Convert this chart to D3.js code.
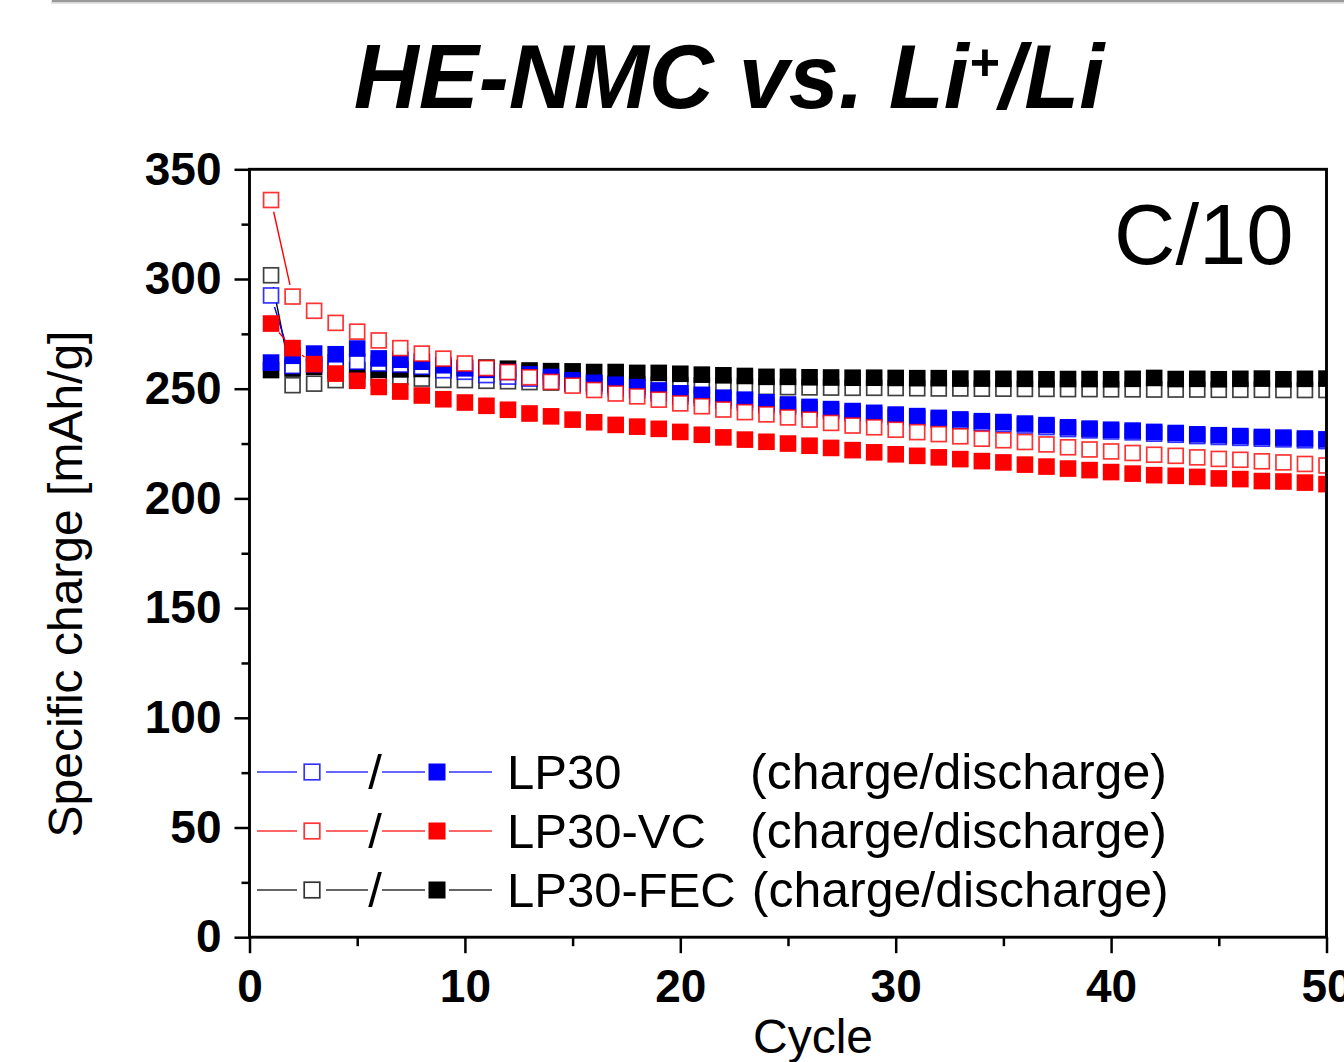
<!DOCTYPE html>
<html>
<head>
<meta charset="utf-8">
<script src="https://cdn.jsdelivr.net/npm/d3@7"></script>
<style>
  body { margin: 0; background: #fff; }
  svg { display: block; font-family: "Liberation Sans", Arial, sans-serif; }
</style>
</head>
<body>
<svg id="chart" width="1344" height="1062"></svg>
<script>
(function() {

  // cycle numbers
  var cycles = [1, 2, 3, 4, 5, 6, 7, 8, 9, 10, 11, 12, 13, 14, 15, 16, 17, 18, 19, 20,
      21, 22, 23, 24, 25, 26, 27, 28, 29, 30, 31, 32, 33, 34, 35, 36, 37, 38, 39, 40,
      41, 42, 43, 44, 45, 46, 47, 48, 49, 50];

  // specific charge [mAh/g]
  var lp30Charge = [292.5, 260.4, 261, 262, 262.3, 261.5, 261, 260, 258.4, 257.7,
      256.2, 255.5, 254.6, 253.5, 252.2, 251.1, 250.2, 249.2, 247.8, 246.5,
      245.8, 244.6, 243.7, 242.5, 241.7, 240.7, 239.7, 238.8, 238, 237.2,
      236.6, 235.8, 235.1, 234.3, 233.9, 233.2, 232.5, 231.6, 231, 230.5,
      230.1, 229.5, 229, 228.4, 228, 227.6, 227.2, 226.9, 226.5, 226.1];
  var lp30Discharge = [261.9, 265, 266, 265.7, 268.3, 263.8, 263.2, 262.3, 260.7, 259.3,
      258.6, 257.6, 256.5, 255.3, 253.8, 252.7, 251.8, 250.7, 249.2, 247.9,
      247.2, 245.9, 245, 243.8, 242.8, 241.7, 240.7, 239.8, 239, 238.2,
      237.5, 236.7, 236, 235.2, 234.8, 234.1, 233.4, 232.4, 231.8, 231.3,
      230.9, 230.3, 229.8, 229.2, 228.8, 228.4, 228, 227.7, 227.3, 226.9];
  var vcCharge = [336, 292, 285.5, 280, 276, 272, 268.5, 266, 263.7, 261.5,
      259.4, 257.6, 255.2, 253.1, 251.4, 249.4, 247.8, 246.5, 245, 243.3,
      242, 240.5, 239.3, 238.3, 236.9, 235.9, 234.4, 233.2, 232.4, 231.3,
      230.2, 229.3, 228.3, 227.2, 226.5, 225.7, 224.6, 223.3, 222.3, 221.4,
      220.7, 219.9, 219.4, 218.7, 218, 217.6, 216.9, 216.4, 215.7, 215];
  var vcDischarge = [279.7, 268.5, 261.2, 256.9, 253.6, 250.8, 248.7, 246.9, 245.2, 243.7,
      242.2, 240.4, 238.7, 237.4, 235.9, 234.7, 233.5, 232.7, 231.7, 230.3,
      229, 227.8, 226.8, 225.8, 225, 224, 223, 222, 221, 220.1,
      219.4, 218.7, 217.9, 217, 216.4, 215.4, 214.5, 213.6, 212.9, 212,
      211.3, 210.6, 210.3, 209.8, 209.1, 208.8, 207.9, 207.7, 207.2, 206.5];
  var fecCharge = [301.7, 251.6, 252.3, 253.9, 254.5, 255, 255.5, 254.6, 254, 253.9,
      253.6, 253.4, 253, 252.8, 252.6, 252.4, 252.2, 252, 251.8, 251.6,
      251.4, 251.2, 251, 250.8, 250.7, 250.6, 250.5, 250.4, 250.4, 250.3,
      250.2, 250.1, 250.1, 250, 250, 249.9, 249.9, 249.8, 249.8, 249.7,
      249.7, 249.6, 249.6, 249.6, 249.5, 249.5, 249.5, 249.4, 249.4, 249.4];
  var fecDischarge = [258.5, 259.2, 260, 258.5, 258.5, 258.6, 258.8, 259, 259.3, 259.5,
      259.6, 259.1, 258.3, 258, 257.9, 257.6, 257.6, 257.2, 257.2, 256.8,
      256.4, 256.1, 255.8, 255.4, 255.4, 255.2, 255.1, 255, 255, 254.9,
      254.8, 254.8, 254.6, 254.6, 254.5, 254.5, 254.3, 254.4, 254.4, 254.3,
      254.5, 254.9, 254.4, 254.5, 254.3, 254.5, 254.6, 254.3, 254.5, 254.6];

  var xTicks = [0, 10, 20, 30, 40, 50],
      xMinorTicks = [5, 15, 25, 35, 45],
      yTicks = [0, 50, 100, 150, 200, 250, 300, 350],
      yMinorTicks = [25, 75, 125, 175, 225, 275, 325];

  var legendNames = ["LP30", "LP30-VC", "LP30-FEC"],
      legendColors = ["#0000ff", "#ff0000", "#000000"];

  // draw order: later series sit on top
  var series = [
    {values: fecCharge, color: "#000000", open: true},
    {values: fecDischarge, color: "#000000", open: false},
    {values: lp30Charge, color: "#0000ff", open: true},
    {values: lp30Discharge, color: "#0000ff", open: false},
    {values: vcDischarge, color: "#ff0000", open: false},
    {values: vcCharge, color: "#ff0000", open: true}
  ];

  var left = 249.5, right = 1326.5, top = 169.3, bottom = 937.2;
  var markerSize = 16.6, gap = 12;

  var svg = d3.select("#chart");

  var x = d3.scaleLinear()
      .domain([0, 50])
      .range([left, right]);

  var y = d3.scaleLinear()
      .domain([0, 350])
      .range([bottom, top]);

  // grey shadow strip at the very top
  svg.append("rect")
      .attr("x", 51).attr("y", 0)
      .attr("width", 1293).attr("height", 4)
      .attr("fill", "#e4e4e4");
  svg.append("rect")
      .attr("x", 52).attr("y", 0)
      .attr("width", 1292).attr("height", 2.2)
      .attr("fill", "#9a9a9a");

  svg.append("text")
      .attr("x", 729)
      .attr("y", 108)
      .attr("text-anchor", "middle")
      .style("font", "italic bold 90px 'Liberation Sans', Arial, sans-serif")
      .html("HE-NMC vs. Li<tspan font-size='52px' dy='-28'>+</tspan><tspan dy='28'>/Li</tspan>");

  svg.append("defs").append("clipPath")
      .attr("id", "plot-clip")
    .append("rect")
      .attr("x", left)
      .attr("y", top)
      .attr("width", right - left)
      .attr("height", bottom - top);

  var plot = svg.append("g")
      .attr("clip-path", "url(#plot-clip)");

  series.forEach(function(s) {
    var pts = s.values.map(function(v, i) { return [x(cycles[i]), y(v)]; });
    var segs = [];
    for (var i = 1; i < pts.length; i++) {
      var dx = pts[i][0] - pts[i - 1][0],
          dy = pts[i][1] - pts[i - 1][1],
          len = Math.sqrt(dx * dx + dy * dy);
      if (len > 2 * gap + 2) {
        segs.push([
          pts[i - 1][0] + gap * dx / len, pts[i - 1][1] + gap * dy / len,
          pts[i][0] - gap * dx / len, pts[i][1] - gap * dy / len
        ]);
      }
    }

    var g = plot.append("g");

    g.selectAll("line")
        .data(segs)
      .enter().append("line")
        .attr("x1", d => d[0]).attr("y1", d => d[1])
        .attr("x2", d => d[2]).attr("y2", d => d[3])
        .attr("stroke", s.color)
        .attr("stroke-width", 1.4);

    var sw = s.open ? 1.7 : 0,
        sz = s.open ? markerSize - sw : markerSize;

    g.selectAll("rect")
        .data(s.values)
      .enter().append("rect")
        .attr("x", (d, i) => x(cycles[i]) - sz / 2)
        .attr("y", d => y(d) - sz / 2)
        .attr("width", sz)
        .attr("height", sz)
        .attr("fill", s.open ? "#fff" : s.color)
        .attr("stroke", s.open ? s.color : "none")
        .attr("stroke-opacity", s.color == "#000000" ? 0.75 : 0.8)
        .attr("stroke-width", sw);
  });

  // axes
  var xAxis = svg.append("g")
      .attr("class", "axis")
      .attr("transform", "translate(0," + bottom + ")")
      .call(d3.axisBottom(x)
        .tickValues(xTicks)
        .tickSize(16)
        .tickSizeOuter(0)
        .tickPadding(16)
        .tickFormat(d3.format("d")));

  var xMinor = svg.append("g")
      .attr("transform", "translate(0," + bottom + ")")
      .call(d3.axisBottom(x)
        .tickValues(xMinorTicks)
        .tickSize(9)
        .tickSizeOuter(0)
        .tickFormat(""));

  var yAxis = svg.append("g")
      .attr("class", "axis")
      .attr("transform", "translate(" + left + ",0)")
      .call(d3.axisLeft(y)
        .tickValues(yTicks)
        .tickSize(15)
        .tickSizeOuter(0)
        .tickPadding(13)
        .tickFormat(d3.format("d")));

  var yMinor = svg.append("g")
      .attr("transform", "translate(" + left + ",0)")
      .call(d3.axisLeft(y)
        .tickValues(yMinorTicks)
        .tickSize(8)
        .tickSizeOuter(0)
        .tickFormat(""));

  svg.selectAll(".domain").remove();
  svg.selectAll(".tick line")
      .attr("stroke", "#000")
      .attr("stroke-width", 2.5);
  svg.selectAll(".axis .tick text")
      .attr("fill", "#000")
      .style("font", "bold 46px 'Liberation Sans', Arial, sans-serif");

  svg.append("rect")
      .attr("x", left)
      .attr("y", top)
      .attr("width", right - left)
      .attr("height", bottom - top)
      .attr("fill", "none")
      .attr("stroke", "#000")
      .attr("stroke-width", 2.9);

  svg.append("text")
      .attr("x", 813)
      .attr("y", 1053)
      .attr("text-anchor", "middle")
      .style("font", "48px 'Liberation Sans', Arial, sans-serif")
      .text("Cycle");

  svg.append("text")
      .attr("transform", "translate(82,584) rotate(-90)")
      .attr("text-anchor", "middle")
      .style("font", "48px 'Liberation Sans', Arial, sans-serif")
      .text("Specific charge [mAh/g]");

  svg.append("text")
      .attr("x", 1114)
      .attr("y", 264)
      .style("font", "85px 'Liberation Sans', Arial, sans-serif")
      .text("C/10");

  // legend
  var legendY = d3.scaleOrdinal()
      .domain(legendNames)
      .range([772, 831, 890]);

  var legend = svg.append("g")
      .attr("class", "legend");

  legendNames.forEach(function(name, i) {
    var ly = legendY(name),
        color = legendColors[i],
        row = legend.append("g");

    [[257, 297], [326, 368], [382, 425], [449, 492]].forEach(function(seg) {
      row.append("line")
          .attr("x1", seg[0]).attr("x2", seg[1])
          .attr("y1", ly).attr("y2", ly)
          .attr("stroke", color)
          .attr("stroke-opacity", 0.8)
          .attr("stroke-width", 1.4);
    });

    row.append("rect")
        .attr("x", 312 - 7.8).attr("y", ly - 7.8)
        .attr("width", 15.6).attr("height", 15.6)
        .attr("fill", "#fff")
        .attr("stroke", color)
        .attr("stroke-opacity", 0.8)
        .attr("stroke-width", 1.7);

    row.append("rect")
        .attr("x", 437 - 8.5).attr("y", ly - 8.5)
        .attr("width", 17).attr("height", 17)
        .attr("fill", color);

    row.append("text")
        .attr("x", 375)
        .attr("y", ly + 17)
        .attr("text-anchor", "middle")
        .style("font", "49px 'Liberation Sans', Arial, sans-serif")
        .text("/");

    var label = row.append("text")
        .attr("x", 507)
        .attr("y", ly + 17)
        .style("font", "49px 'Liberation Sans', Arial, sans-serif")
        .text(name);

    var end = 507 + label.node().getComputedTextLength();

    row.append("text")
        .attr("x", Math.max(750, end + 16))
        .attr("y", ly + 17)
        .style("font", "50px 'Liberation Sans', Arial, sans-serif")
        .text("(charge/discharge)");
  });

})();
</script>
</body>
</html>
